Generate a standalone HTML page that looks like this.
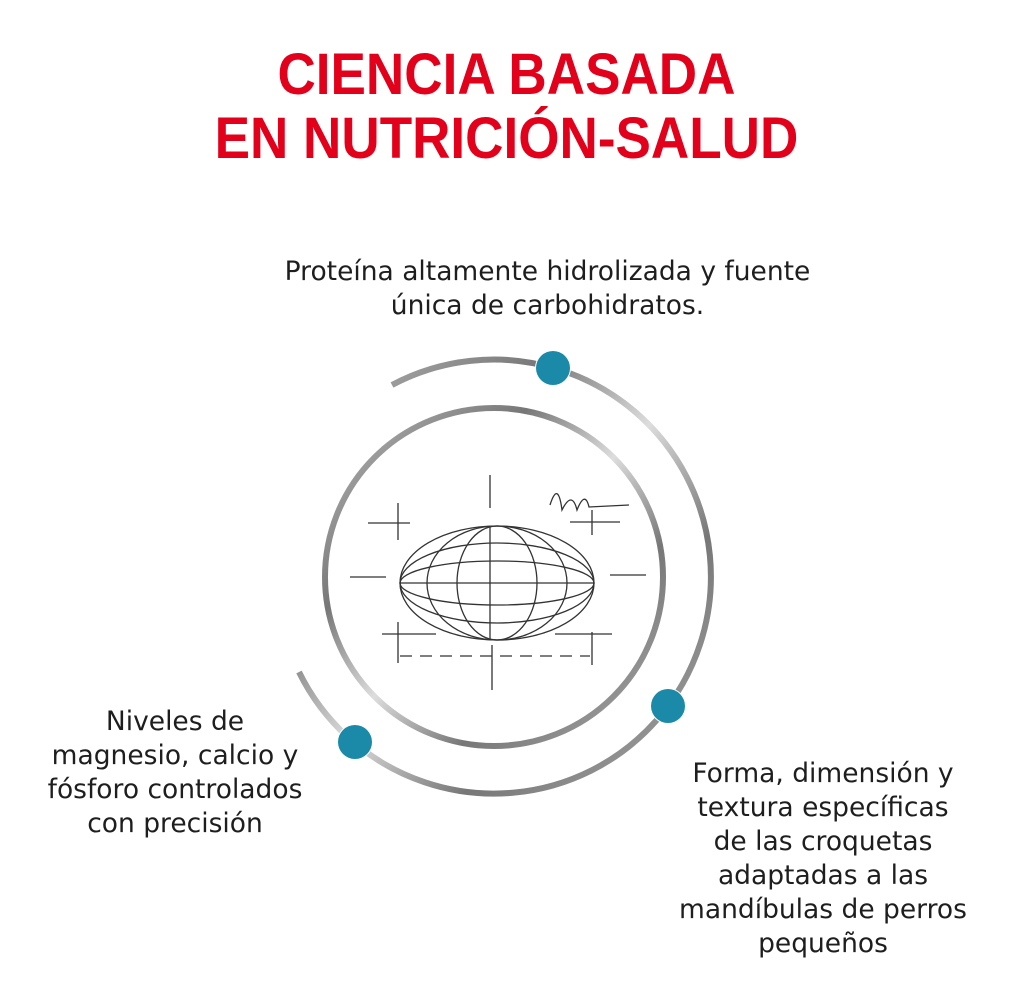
<!DOCTYPE html>
<html><head><meta charset="utf-8"><style>
body{margin:0;width:1013px;height:1003px;background:#fff;position:relative;overflow:hidden;font-family:"DejaVu Sans",sans-serif;}
.t{position:absolute;left:0;width:1013px;text-align:center;color:#e2001a;font-family:"Liberation Sans",sans-serif;font-weight:bold;font-size:58px;line-height:62px;transform:scaleX(0.915);transform-origin:506px 0;}
.p{position:absolute;color:#1e1e1e;font-size:26.5px;line-height:34px;text-align:center;white-space:nowrap;}
</style></head><body>
<div class="t" style="top:44px">CIENCIA BASADA</div>
<div class="t" style="top:108px">EN NUTRICIÓN-SALUD</div>
<div class="p" style="left:200px;width:695px;top:255px">Proteína altamente hidrolizada y fuente<br>única de carbohidratos.</div>
<div class="p" style="left:0px;width:350px;top:705px">Niveles de<br>magnesio, calcio y<br>fósforo controlados<br>con precisión</div>
<div class="p" style="left:638px;width:370px;top:757px">Forma, dimensión y<br>textura específicas<br>de las croquetas<br>adaptadas a las<br>mandíbulas de perros<br>pequeños</div>
<svg width="1013" height="1003" style="position:absolute;left:0;top:0">
<defs><linearGradient id="g" x1="0" y1="0" x2="1" y2="1">
<stop offset="0" stop-color="#bbb"/><stop offset=".3" stop-color="#777"/><stop offset=".5" stop-color="#ddd"/><stop offset=".7" stop-color="#777"/><stop offset="1" stop-color="#aaa"/></linearGradient></defs>
<circle cx="494" cy="577" r="169" fill="none" stroke="url(#g)" stroke-width="6"/>
<path d="M392 385 A217 217 0 1 1 299 672" fill="none" stroke="url(#g)" stroke-width="6"/>
<circle cx="553" cy="368" r="18" fill="#fff"/><circle cx="553" cy="368" r="17" fill="#1a8aa8"/>
<circle cx="668" cy="706" r="18" fill="#fff"/><circle cx="668" cy="706" r="17" fill="#1a8aa8"/>
<circle cx="355" cy="742" r="18" fill="#fff"/><circle cx="355" cy="742" r="17" fill="#1a8aa8"/>
<g fill="none" stroke="#333" stroke-width="1.3">
<ellipse cx="497" cy="583" rx="97" ry="57"/>
<ellipse cx="497" cy="583" rx="97" ry="40"/><ellipse cx="497" cy="583" rx="97" ry="22"/>
<line x1="400" y1="583" x2="594" y2="583"/>
<ellipse cx="497" cy="583" rx="70" ry="57"/><ellipse cx="497" cy="583" rx="40" ry="57"/>
<line x1="490" y1="526" x2="490" y2="640"/>
<line x1="490" y1="475" x2="490" y2="508"/><line x1="492" y1="645" x2="492" y2="690"/>
<line x1="368" y1="523" x2="410" y2="523"/><line x1="398" y1="503" x2="398" y2="540"/>
<line x1="350" y1="577" x2="386" y2="577"/><line x1="610" y1="575" x2="646" y2="575"/>
<line x1="382" y1="634" x2="436" y2="634"/><line x1="398" y1="622" x2="398" y2="663"/>
<line x1="400" y1="656" x2="590" y2="656" stroke-dasharray="12 8"/>
<line x1="592" y1="632" x2="592" y2="665"/><line x1="555" y1="634" x2="612" y2="634"/>
<line x1="570" y1="522" x2="620" y2="522"/><line x1="592" y1="510" x2="592" y2="535"/>
<path d="M550 505 q8 -25 12 5 q10-20 15 0 q8 -20 12 -3 l40 -2"/>
</g>
</svg>
</body></html>
